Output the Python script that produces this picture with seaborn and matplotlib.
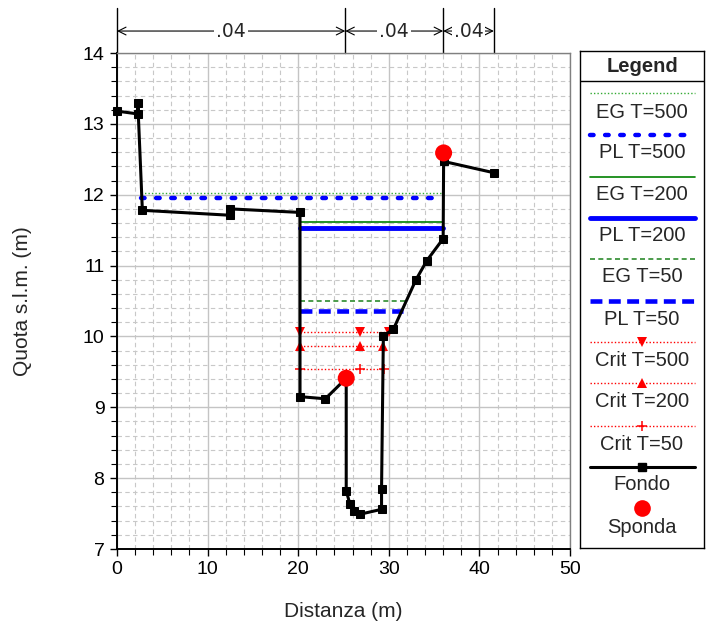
import matplotlib
matplotlib.use("Agg")
import matplotlib.pyplot as plt
import seaborn as sns
import pandas as pd
from matplotlib.ticker import MultipleLocator

# ---------------- data ----------------
fondo_x = [0.0, 2.3, 2.3, 2.8, 12.5, 12.5, 20.2, 20.2, 23.0, 25.3, 25.3, 25.7, 26.2, 26.8,
           29.2, 29.2, 29.4, 30.5, 33.0, 34.2, 36.0, 36.05, 41.6]
fondo_y = [13.18, 13.14, 13.29, 11.78, 11.71, 11.80, 11.75, 9.15, 9.12, 9.41, 7.82, 7.64, 7.54, 7.49,
           7.56, 7.85, 10.01, 10.10, 10.80, 11.07, 11.38, 12.47, 12.31]
sponda_x = [25.3, 36.05]
sponda_y = [9.41, 12.59]

eg500_x = [2.6, 36.0];  eg500_y = [12.03, 12.03]
pl500_x = [2.6, 36.0];  pl500_y = [11.95, 11.95]
eg200_x = [20.2, 36.0]; eg200_y = [11.61, 11.61]
pl200_x = [20.2, 36.0]; pl200_y = [11.53, 11.53]
eg50_x = [20.2, 31.8];  eg50_y = [10.50, 10.50]
pl50_x = [20.2, 31.6];  pl50_y = [10.36, 10.36]
crit500_x = [20.2, 26.8, 30.0]; crit500_y = [10.06, 10.06, 10.06]
crit200_x = [20.2, 26.8, 29.4]; crit200_y = [9.87, 9.87, 9.87]
crit50_x = [20.2, 26.8, 29.5];  crit50_y = [9.54, 9.54, 9.54]

manning_bounds = [0.0, 25.2, 36.0, 41.6]
manning_labels = [".04", ".04", ".04"]

legend_labels = ["EG T=500", "PL T=500", "EG T=200", "PL T=200", "EG T=50", "PL T=50",
                 "Crit T=500", "Crit T=200", "Crit T=50", "Fondo", "Sponda"]

# ---------------- style ----------------
sns.set_style("white")
plt.rcParams["font.family"] = ["Liberation Sans", "DejaVu Sans"]

W, H = 715, 633
fig = plt.figure(figsize=(W / 100, H / 100), dpi=100)
ax = fig.add_axes([117 / W, 1 - 549 / H, 453 / W, 496 / H])

ax.set_xlim(0, 50)
ax.set_ylim(7, 14)
ax.xaxis.set_major_locator(MultipleLocator(10))
ax.xaxis.set_minor_locator(MultipleLocator(2))
ax.yaxis.set_major_locator(MultipleLocator(1))
ax.yaxis.set_minor_locator(MultipleLocator(0.2))
ax.grid(which="major", color="#c4c4c4", linestyle="-", linewidth=1.0)
ax.grid(which="minor", color="#c8c8c8", linestyle=(0, (4, 3)), linewidth=0.8)
ax.set_axisbelow(True)
ax.tick_params(which="both", direction="out", left=True, bottom=True, labelsize=14,
               colors="black", pad=4)
ax.tick_params(which="major", length=5, width=1)
ax.tick_params(which="minor", length=4, width=0.8)
for s in ["left", "bottom"]:
    ax.spines[s].set_color("black")
    ax.spines[s].set_linewidth(1.4)
for s in ["top", "right"]:
    ax.spines[s].set_color("#808080")
    ax.spines[s].set_linewidth(1.0)

ax.set_xlabel("Distanza (m)", fontsize=15)
ax.set_ylabel("Quota s.l.m. (m)", fontsize=15)
ax.xaxis.set_label_coords(0.5, (549 - 602) / 496)
ax.yaxis.set_label_coords((32 - 117) / 453, 0.5)

green = "#2e8b2e"
green2 = "#008000"
blue = "#0000ff"
red = "#ff0000"

def line(x, y, **kw):
    sns.lineplot(x=x, y=y, ax=ax, estimator=None, sort=False, legend=False, **kw)

line(eg500_x, eg500_y, color="#33aa33", linestyle=(0, (1, 1.5)), linewidth=1.0)
line(pl500_x, pl500_y, color=blue, linestyle=(0, (0.8, 2.6)), linewidth=3.2, dash_capstyle="round")
line(eg200_x, eg200_y, color=green2, linestyle="-", linewidth=1.2)
line(pl200_x, pl200_y, color=blue, linestyle="-", linewidth=3.5)
line(eg50_x, eg50_y, color=green, linestyle=(0, (3, 2)), linewidth=1.2)
line(pl50_x, pl50_y, color=blue, linestyle=(0, (2.6, 1.4)), linewidth=3.3)
line(crit500_x, crit500_y, color=red, linestyle=(0, (1, 1.5)), linewidth=1.0,
     marker="v", markersize=6.5, markeredgewidth=0, markerfacecolor=red)
line(crit200_x, crit200_y, color=red, linestyle=(0, (1, 1.5)), linewidth=1.0,
     marker="^", markersize=6.5, markeredgewidth=0, markerfacecolor=red)
line(crit50_x, crit50_y, color=red, linestyle=(0, (1, 1.5)), linewidth=1.0,
     marker="+", markersize=7, markeredgewidth=1.1, markeredgecolor=red)
line(fondo_x, fondo_y, color="black", linewidth=2.2, marker="s", markersize=6,
     markerfacecolor="black", markeredgecolor="black", clip_on=False)
sns.scatterplot(x=sponda_x, y=sponda_y, ax=ax, color=red, s=150, edgecolor="none",
                zorder=5, legend=False, clip_on=False)

# Manning coefficient annotation above the axes
ytop = 14.64
yarr = 14.31
for b in manning_bounds:
    ax.plot([b, b], [14.0, ytop], color="black", linewidth=1.0, clip_on=False)
for i, lab in enumerate(manning_labels):
    x0, x1 = manning_bounds[i], manning_bounds[i + 1]
    ax.annotate("", xy=(x0, yarr), xytext=(x1, yarr), annotation_clip=False,
                arrowprops=dict(arrowstyle="<->", color="black", lw=0.8,
                                shrinkA=0, shrinkB=0, mutation_scale=14))
    ax.text((x0 + x1) / 2, yarr, lab, ha="center", va="center", fontsize=13.5,
            family="DejaVu Sans", clip_on=False,
            bbox=dict(facecolor="white", edgecolor="none", pad=1.5))

# ---------------- legend panel ----------------
lax = fig.add_axes([580 / W, 1 - 548 / H, 124 / W, 497 / H])
lax.set_xlim(0, 124)
lax.set_ylim(497, 0)
lax.set_xticks([]); lax.set_yticks([])
for s in lax.spines.values():
    s.set_color("black"); s.set_linewidth(1.0)
lax.text(62, 15, "Legend", ha="center", va="center", fontsize=14.5, fontweight="bold")
lax.plot([0, 124], [30, 30], color="black", linewidth=1.0)

line_y = [42.3, 84, 125.7, 166.7, 208.3, 250, 291.3, 332.3, 374.7, 415.7, 457.3]
text_y = [61.7, 101, 144, 184.7, 225, 268.3, 310, 350.7, 393, 434, 476.7]
styles = [
    dict(color="#33aa33", linestyle=(0, (1, 1.5)), linewidth=1.0),
    dict(color=blue, linestyle=(0, (0.8, 2.6)), linewidth=3.2, dash_capstyle="round"),
    dict(color=green2, linestyle="-", linewidth=1.2),
    dict(color=blue, linestyle="-", linewidth=3.5),
    dict(color=green, linestyle=(0, (3, 2)), linewidth=1.2),
    dict(color=blue, linestyle=(0, (2.6, 1.4)), linewidth=3.3),
    dict(color=red, linestyle=(0, (1, 1.5)), linewidth=1.0),
    dict(color=red, linestyle=(0, (1, 1.5)), linewidth=1.0),
    dict(color=red, linestyle=(0, (1, 1.5)), linewidth=1.0),
    dict(color="black", linestyle="-", linewidth=2.2),
    None,
]
markers = [None, None, None, None, None, None,
           dict(marker="v", markersize=7, markeredgewidth=0, color=red),
           dict(marker="^", markersize=7, markeredgewidth=0, color=red),
           dict(marker="+", markersize=7, markeredgewidth=1.1, color=red),
           dict(marker="s", markersize=6, color="black"),
           dict(marker="o", markersize=12, markeredgewidth=0, color=red)]
for ly, ty, lab, st, mk in zip(line_y, text_y, legend_labels, styles, markers):
    if st is not None:
        lax.plot([10, 115], [ly, ly], **st)
    if mk is not None:
        lax.plot([62], [ly], linestyle="none", **mk)
    lax.text(62, ty, lab, ha="center", va="center", fontsize=14.5)

fig.savefig("out.png", dpi=100)
